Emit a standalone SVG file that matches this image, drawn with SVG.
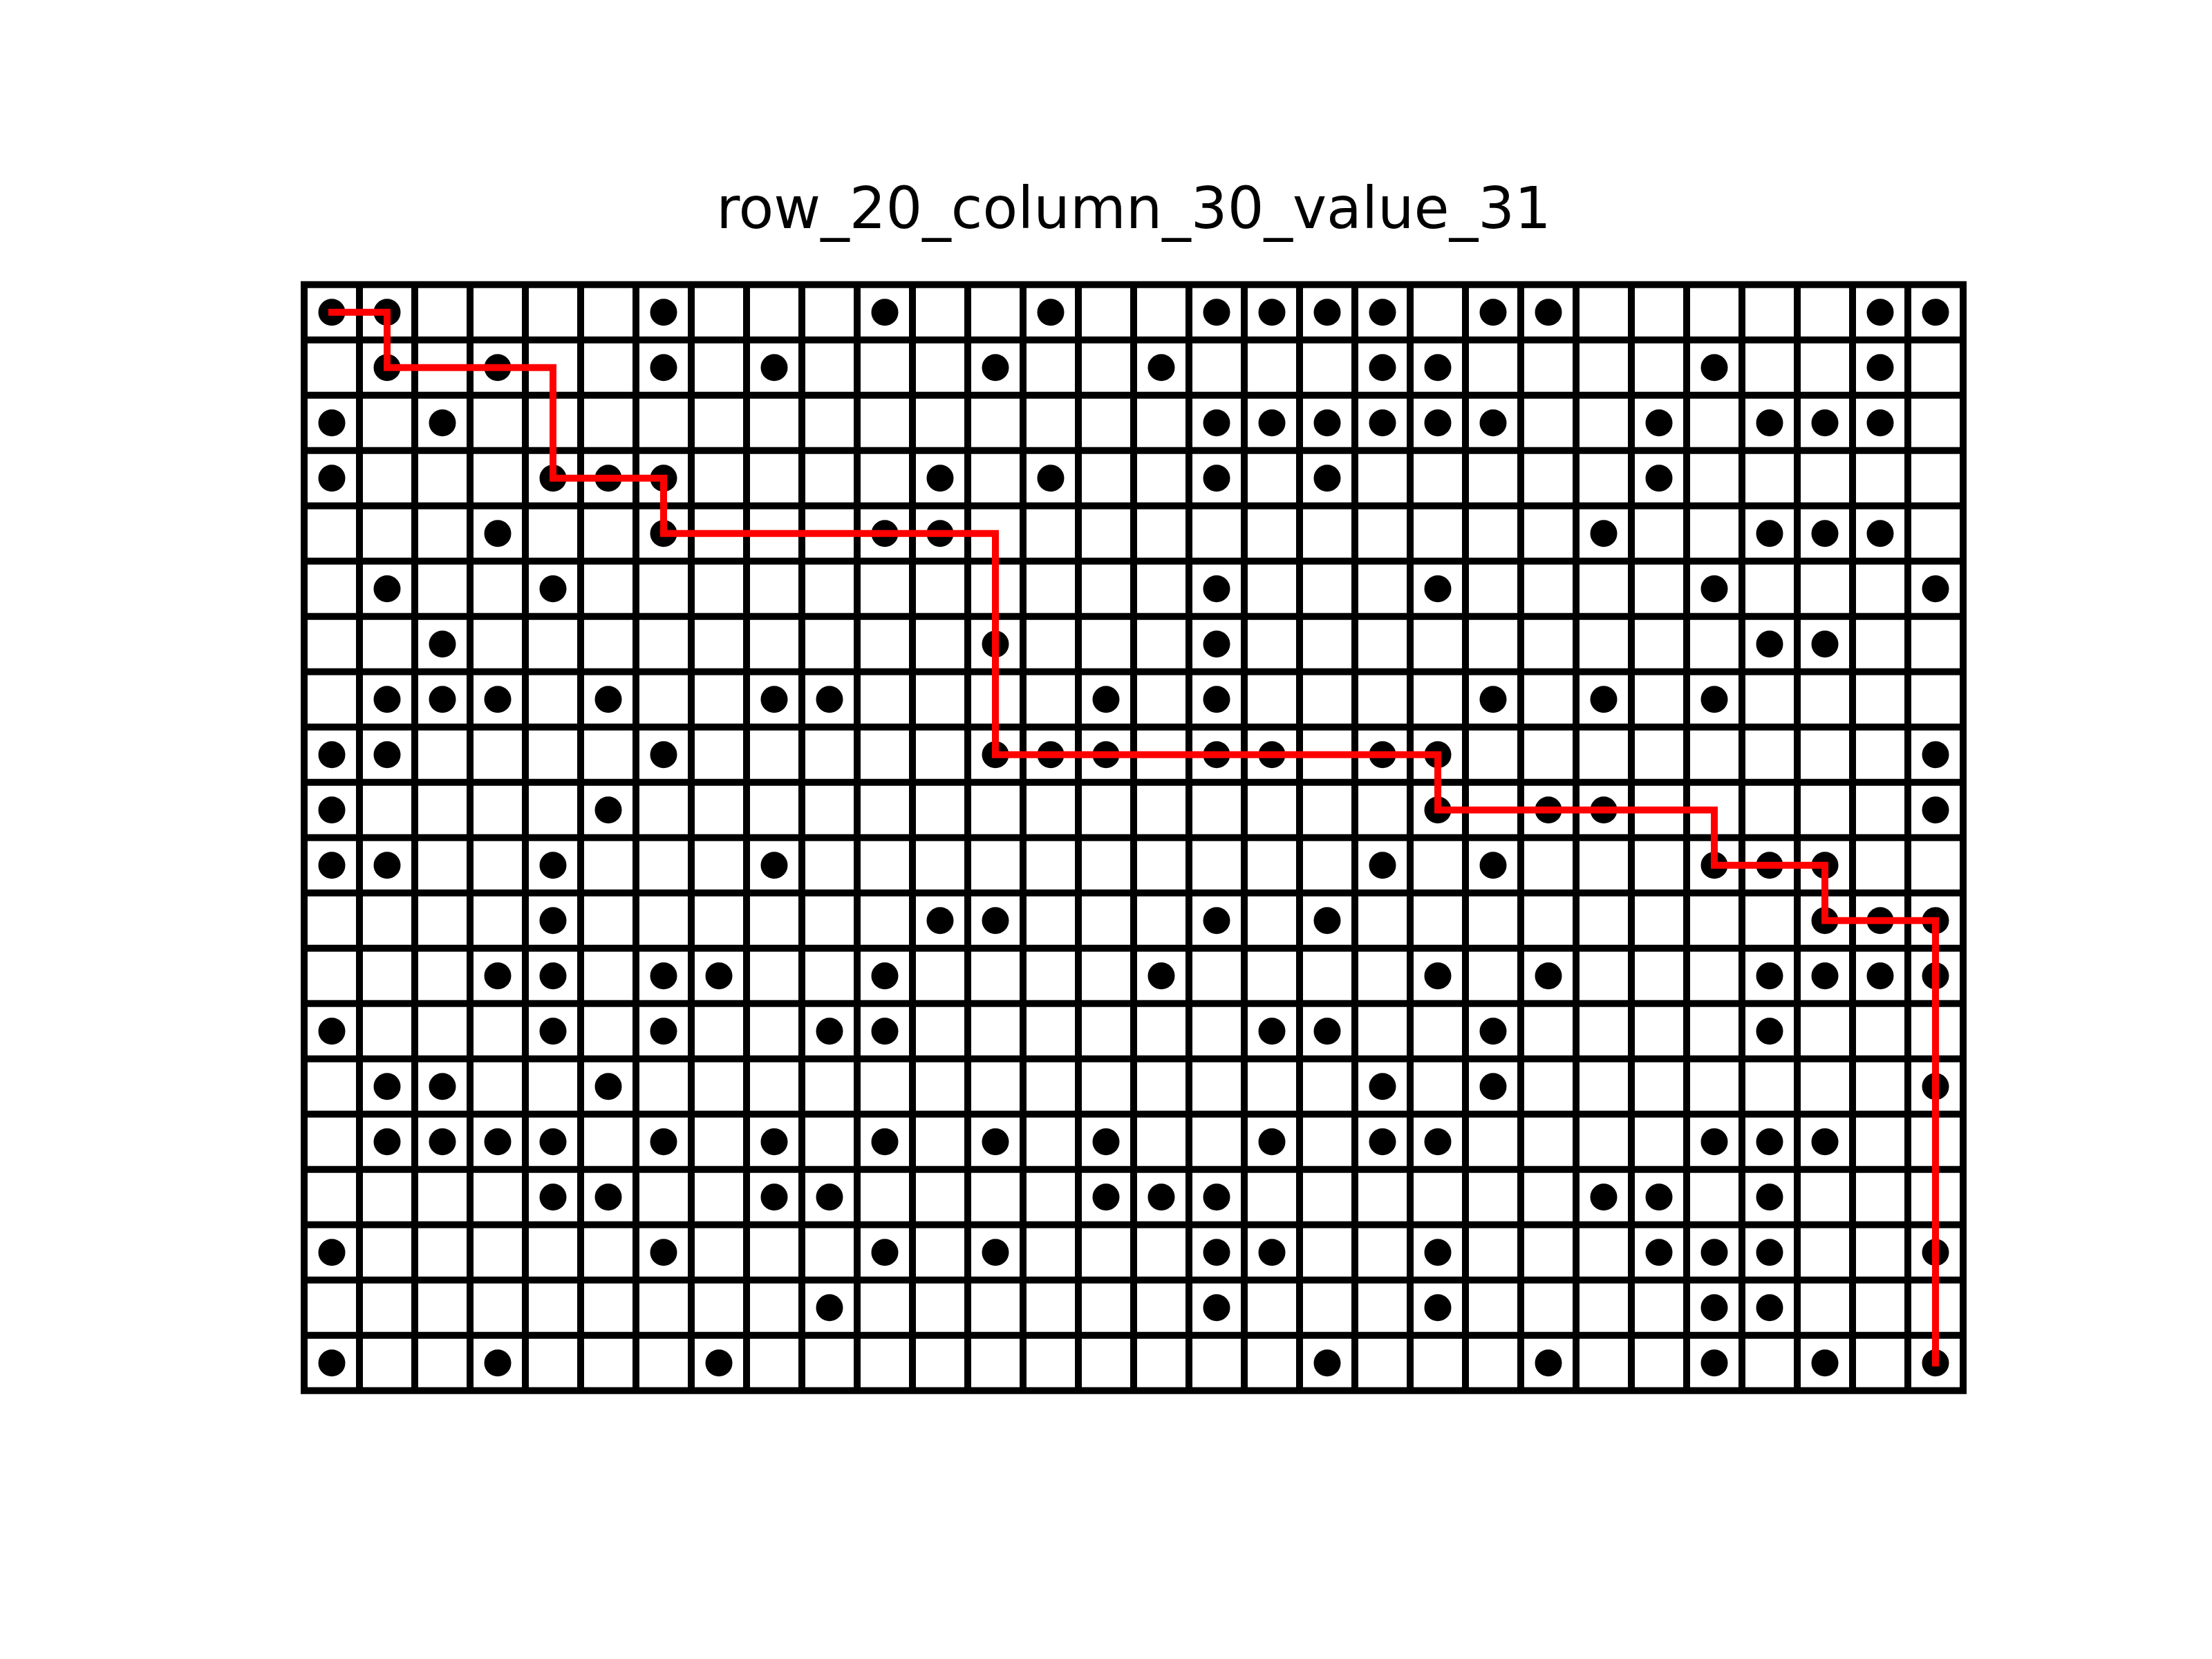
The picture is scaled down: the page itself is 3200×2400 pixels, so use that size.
<svg xmlns="http://www.w3.org/2000/svg" width="3200" height="2400" viewBox="0 0 3200 2400">
<style>
.grid{fill:none;stroke:#000;stroke-width:10;stroke-linecap:square}
.d circle{fill:#000;r:19.5px}
.path{fill:none;stroke:#ff0000;stroke-width:10;stroke-linecap:square;stroke-linejoin:miter}
.title{font-family:"DejaVu Sans","Liberation Sans",sans-serif;font-size:83px;fill:#000;text-anchor:middle}
</style>
<rect width="3200" height="2400" fill="#fff"/>
<text class="title" x="1640" y="330">row_20_column_30_value_31</text>
<g id="board" transform="translate(440,411.7)">
<path id="gridlines" class="grid" d="M0 0V1600M80 0V1600M160 0V1600M240 0V1600M320 0V1600M400 0V1600M480 0V1600M560 0V1600M640 0V1600M720 0V1600M800 0V1600M880 0V1600M960 0V1600M1040 0V1600M1120 0V1600M1200 0V1600M1280 0V1600M1360 0V1600M1440 0V1600M1520 0V1600M1600 0V1600M1680 0V1600M1760 0V1600M1840 0V1600M1920 0V1600M2000 0V1600M2080 0V1600M2160 0V1600M2240 0V1600M2320 0V1600M2400 0V1600M0 0H2400M0 80H2400M0 160H2400M0 240H2400M0 320H2400M0 400H2400M0 480H2400M0 560H2400M0 640H2400M0 720H2400M0 800H2400M0 880H2400M0 960H2400M0 1040H2400M0 1120H2400M0 1200H2400M0 1280H2400M0 1360H2400M0 1440H2400M0 1520H2400M0 1600H2400"/>
<g id="dots" class="d">
<g id="row0" transform="translate(0,40)"><circle cx="40" r="19.5"/><circle cx="120" r="19.5"/><circle cx="520" r="19.5"/><circle cx="840" r="19.5"/><circle cx="1080" r="19.5"/><circle cx="1320" r="19.5"/><circle cx="1400" r="19.5"/><circle cx="1480" r="19.5"/><circle cx="1560" r="19.5"/><circle cx="1720" r="19.5"/><circle cx="1800" r="19.5"/><circle cx="2280" r="19.5"/><circle cx="2360" r="19.5"/></g>
<g id="row1" transform="translate(0,120)"><circle cx="120" r="19.5"/><circle cx="280" r="19.5"/><circle cx="520" r="19.5"/><circle cx="680" r="19.5"/><circle cx="1000" r="19.5"/><circle cx="1240" r="19.5"/><circle cx="1560" r="19.5"/><circle cx="1640" r="19.5"/><circle cx="2040" r="19.5"/><circle cx="2280" r="19.5"/></g>
<g id="row2" transform="translate(0,200)"><circle cx="40" r="19.5"/><circle cx="200" r="19.5"/><circle cx="1320" r="19.5"/><circle cx="1400" r="19.5"/><circle cx="1480" r="19.5"/><circle cx="1560" r="19.5"/><circle cx="1640" r="19.5"/><circle cx="1720" r="19.5"/><circle cx="1960" r="19.5"/><circle cx="2120" r="19.5"/><circle cx="2200" r="19.5"/><circle cx="2280" r="19.5"/></g>
<g id="row3" transform="translate(0,280)"><circle cx="40" r="19.5"/><circle cx="360" r="19.5"/><circle cx="440" r="19.5"/><circle cx="520" r="19.5"/><circle cx="920" r="19.5"/><circle cx="1080" r="19.5"/><circle cx="1320" r="19.5"/><circle cx="1480" r="19.5"/><circle cx="1960" r="19.5"/></g>
<g id="row4" transform="translate(0,360)"><circle cx="280" r="19.5"/><circle cx="520" r="19.5"/><circle cx="840" r="19.5"/><circle cx="920" r="19.5"/><circle cx="1880" r="19.5"/><circle cx="2120" r="19.5"/><circle cx="2200" r="19.5"/><circle cx="2280" r="19.5"/></g>
<g id="row5" transform="translate(0,440)"><circle cx="120" r="19.5"/><circle cx="360" r="19.5"/><circle cx="1320" r="19.5"/><circle cx="1640" r="19.5"/><circle cx="2040" r="19.5"/><circle cx="2360" r="19.5"/></g>
<g id="row6" transform="translate(0,520)"><circle cx="200" r="19.5"/><circle cx="1000" r="19.5"/><circle cx="1320" r="19.5"/><circle cx="2120" r="19.5"/><circle cx="2200" r="19.5"/></g>
<g id="row7" transform="translate(0,600)"><circle cx="120" r="19.5"/><circle cx="200" r="19.5"/><circle cx="280" r="19.5"/><circle cx="440" r="19.5"/><circle cx="680" r="19.5"/><circle cx="760" r="19.5"/><circle cx="1160" r="19.5"/><circle cx="1320" r="19.5"/><circle cx="1720" r="19.5"/><circle cx="1880" r="19.5"/><circle cx="2040" r="19.5"/></g>
<g id="row8" transform="translate(0,680)"><circle cx="40" r="19.5"/><circle cx="120" r="19.5"/><circle cx="520" r="19.5"/><circle cx="1000" r="19.5"/><circle cx="1080" r="19.5"/><circle cx="1160" r="19.5"/><circle cx="1320" r="19.5"/><circle cx="1400" r="19.5"/><circle cx="1560" r="19.5"/><circle cx="1640" r="19.5"/><circle cx="2360" r="19.5"/></g>
<g id="row9" transform="translate(0,760)"><circle cx="40" r="19.5"/><circle cx="440" r="19.5"/><circle cx="1640" r="19.5"/><circle cx="1800" r="19.5"/><circle cx="1880" r="19.5"/><circle cx="2360" r="19.5"/></g>
<g id="row10" transform="translate(0,840)"><circle cx="40" r="19.5"/><circle cx="120" r="19.5"/><circle cx="360" r="19.5"/><circle cx="680" r="19.5"/><circle cx="1560" r="19.5"/><circle cx="1720" r="19.5"/><circle cx="2040" r="19.5"/><circle cx="2120" r="19.5"/><circle cx="2200" r="19.5"/></g>
<g id="row11" transform="translate(0,920)"><circle cx="360" r="19.5"/><circle cx="920" r="19.5"/><circle cx="1000" r="19.5"/><circle cx="1320" r="19.5"/><circle cx="1480" r="19.5"/><circle cx="2200" r="19.5"/><circle cx="2280" r="19.5"/><circle cx="2360" r="19.5"/></g>
<g id="row12" transform="translate(0,1000)"><circle cx="280" r="19.5"/><circle cx="360" r="19.5"/><circle cx="520" r="19.5"/><circle cx="600" r="19.5"/><circle cx="840" r="19.5"/><circle cx="1240" r="19.5"/><circle cx="1640" r="19.5"/><circle cx="1800" r="19.5"/><circle cx="2120" r="19.5"/><circle cx="2200" r="19.5"/><circle cx="2280" r="19.5"/><circle cx="2360" r="19.5"/></g>
<g id="row13" transform="translate(0,1080)"><circle cx="40" r="19.5"/><circle cx="360" r="19.5"/><circle cx="520" r="19.5"/><circle cx="760" r="19.5"/><circle cx="840" r="19.5"/><circle cx="1400" r="19.5"/><circle cx="1480" r="19.5"/><circle cx="1720" r="19.5"/><circle cx="2120" r="19.5"/></g>
<g id="row14" transform="translate(0,1160)"><circle cx="120" r="19.5"/><circle cx="200" r="19.5"/><circle cx="440" r="19.5"/><circle cx="1560" r="19.5"/><circle cx="1720" r="19.5"/><circle cx="2360" r="19.5"/></g>
<g id="row15" transform="translate(0,1240)"><circle cx="120" r="19.5"/><circle cx="200" r="19.5"/><circle cx="280" r="19.5"/><circle cx="360" r="19.5"/><circle cx="520" r="19.5"/><circle cx="680" r="19.5"/><circle cx="840" r="19.5"/><circle cx="1000" r="19.5"/><circle cx="1160" r="19.5"/><circle cx="1400" r="19.5"/><circle cx="1560" r="19.5"/><circle cx="1640" r="19.5"/><circle cx="2040" r="19.5"/><circle cx="2120" r="19.5"/><circle cx="2200" r="19.5"/></g>
<g id="row16" transform="translate(0,1320)"><circle cx="360" r="19.5"/><circle cx="440" r="19.5"/><circle cx="680" r="19.5"/><circle cx="760" r="19.5"/><circle cx="1160" r="19.5"/><circle cx="1240" r="19.5"/><circle cx="1320" r="19.5"/><circle cx="1880" r="19.5"/><circle cx="1960" r="19.5"/><circle cx="2120" r="19.5"/></g>
<g id="row17" transform="translate(0,1400)"><circle cx="40" r="19.5"/><circle cx="520" r="19.5"/><circle cx="840" r="19.5"/><circle cx="1000" r="19.5"/><circle cx="1320" r="19.5"/><circle cx="1400" r="19.5"/><circle cx="1640" r="19.5"/><circle cx="1960" r="19.5"/><circle cx="2040" r="19.5"/><circle cx="2120" r="19.5"/><circle cx="2360" r="19.5"/></g>
<g id="row18" transform="translate(0,1480)"><circle cx="760" r="19.5"/><circle cx="1320" r="19.5"/><circle cx="1640" r="19.5"/><circle cx="2040" r="19.5"/><circle cx="2120" r="19.5"/></g>
<g id="row19" transform="translate(0,1560)"><circle cx="40" r="19.5"/><circle cx="280" r="19.5"/><circle cx="600" r="19.5"/><circle cx="1480" r="19.5"/><circle cx="1800" r="19.5"/><circle cx="2040" r="19.5"/><circle cx="2200" r="19.5"/><circle cx="2360" r="19.5"/></g>
</g>
<g id="connectors">
<path id="route" class="path" d="M40 40H120V120H360V280H520V360H1000V680H1640V760H2040V840H2200V920H2360V1560"/>
</g>
</g>
</svg>
